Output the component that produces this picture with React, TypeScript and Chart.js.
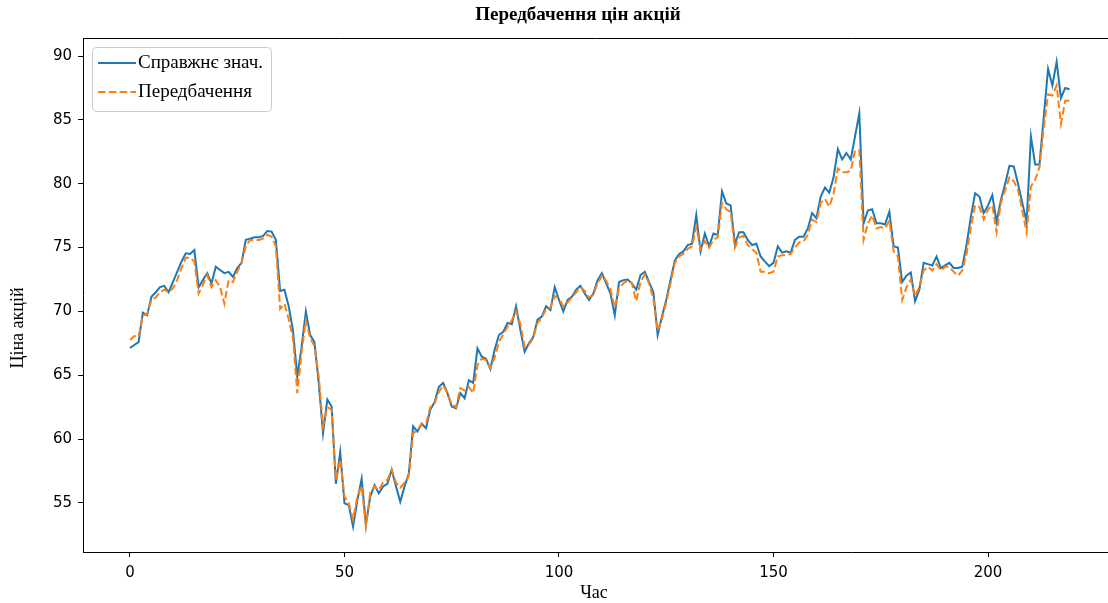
import React, { useEffect, useRef } from 'react';
import { Chart, registerables } from 'chart.js';

Chart.register(...registerables);

const TITLE = 'Передбачення цін акцій';
const X_LABEL = 'Час';
const Y_LABEL = 'Ціна акцій';
const SERIES_NAMES = ['Справжнє знач.', 'Передбачення'];
const X_TICKS = [0, 50, 100, 150, 200];
const Y_TICKS = [55, 60, 65, 70, 75, 80, 85, 90];

const ACTUAL = [
  67.13, 67.37, 67.6, 69.9, 69.7, 71.15, 71.5, 71.9, 72.0, 71.5,
  72.3, 73.1, 73.9, 74.55, 74.5, 74.8, 71.9, 72.45, 73.0, 72.2,
  73.5, 73.24, 73.0, 73.1, 72.7, 73.4, 73.8, 75.6, 75.7, 75.8,
  75.8, 75.9, 76.3, 76.25, 75.6, 71.6, 71.7, 70.4, 68.5, 64.9,
  67.2, 70.0, 68.15, 67.6, 64.4, 60.45, 63.1, 62.55, 56.5, 59.0,
  54.97, 54.84, 53.14, 55.2, 56.9, 53.3, 55.5, 56.4, 55.76, 56.3,
  56.5, 57.6, 56.3, 55.1, 56.3, 57.3, 61.0, 60.6, 61.2, 60.85,
  62.3, 62.9, 64.1, 64.4, 63.6, 62.55, 62.4, 63.6, 63.2, 64.6,
  64.4, 67.1, 66.45, 66.3, 65.5, 67.0, 68.15, 68.4, 69.1, 69.0,
  70.4, 68.55, 66.85, 67.5, 68.0, 69.35, 69.6, 70.4, 70.1, 71.9,
  70.9, 70.0, 70.9, 71.15, 71.7, 72.0, 71.4, 70.9, 71.4, 72.45,
  73.0, 72.2, 71.4, 69.7, 72.3, 72.45, 72.5, 72.2, 71.7, 72.85,
  73.1, 72.3, 71.5, 68.15, 69.6, 70.9, 72.46, 74.0, 74.5, 74.7,
  75.2, 75.3, 77.55, 74.7, 76.1, 75.1, 76.1, 75.97, 79.4, 78.45,
  78.3, 75.3, 76.2, 76.2, 75.6, 75.2, 75.3, 74.3, 73.9, 73.55,
  73.8, 75.1, 74.6, 74.7, 74.6, 75.6, 75.85, 75.85, 76.5, 77.7,
  77.3, 79.0, 79.7, 79.3, 80.5, 82.7, 81.9, 82.4, 81.9, 83.7,
  85.5, 76.9, 77.9, 78.0, 76.9, 76.9, 76.8, 77.8, 75.1, 75.0,
  72.3, 72.8, 73.05, 70.8, 71.7, 73.8, 73.7, 73.6, 74.3, 73.4,
  73.6, 73.8, 73.4, 73.4, 73.5, 75.2, 77.4, 79.25, 79.0, 77.7,
  78.3, 79.1, 77.0, 78.7, 80.0, 81.4, 81.35, 80.0, 78.5, 77.0,
  83.7, 81.5, 81.5, 85.25, 89.0, 87.7, 89.55, 86.7, 87.5, 87.4,
];

const PREDICTED = [
  67.76, 68.07, 68.0, 69.7, 69.8, 70.9, 71.1, 71.5, 71.7, 71.5,
  71.8, 72.45, 73.4, 74.2, 74.2, 73.9, 71.4, 72.1, 72.85, 71.9,
  72.45, 71.9, 70.6, 72.45, 72.3, 73.1, 73.8, 75.1, 75.6, 75.6,
  75.6, 75.7, 76.0, 75.85, 75.1, 70.2, 70.6, 69.4, 67.9, 63.6,
  66.8, 69.3, 67.9, 67.3, 64.9, 61.0, 62.5, 62.3, 56.8, 58.4,
  55.5, 55.0, 53.7, 55.5, 56.3, 53.2, 55.8, 56.3, 56.0, 56.6,
  56.8, 57.6, 56.6, 56.2, 56.6, 57.1, 60.45, 60.7, 61.2, 61.2,
  62.5, 62.8, 63.7, 64.2, 63.6, 62.7, 62.5, 64.0, 63.8, 64.1,
  63.6, 65.8, 66.3, 66.2, 65.6, 66.4, 67.6, 68.2, 68.8, 69.3,
  70.0, 69.0, 67.2, 67.4, 67.9, 69.1, 69.5, 70.2, 70.3, 71.2,
  71.0, 70.4, 70.7, 71.1, 71.5, 71.9, 71.6, 71.1, 71.3, 72.2,
  72.8, 72.4, 71.7, 70.3, 71.8, 72.2, 72.4, 72.2, 70.8, 72.3,
  72.9, 72.2, 71.0, 68.5, 69.4, 70.7, 72.2, 73.8, 74.3, 74.5,
  74.9, 75.1, 76.6, 74.9, 75.5, 75.0, 75.6, 75.8, 78.5, 78.0,
  77.8, 75.0, 75.8, 75.9, 75.2, 74.9, 74.6, 73.1, 73.1, 73.0,
  73.1, 74.3, 74.4, 74.4, 74.5, 75.0, 75.4, 75.5, 76.0, 77.2,
  77.0, 78.5, 78.8, 78.2, 79.2, 81.2, 80.9, 80.9, 81.0, 82.6,
  82.6, 75.6, 76.9, 77.5, 76.5, 76.6, 76.5, 77.1, 74.7, 74.3,
  70.9, 71.9, 72.5, 71.2, 71.9, 73.2, 73.5, 73.2, 73.7, 73.2,
  73.5, 73.5, 73.1, 72.8, 73.2, 74.5, 76.6, 78.3, 78.2, 77.2,
  78.0, 78.3, 76.2, 78.5, 79.5, 80.5, 80.2, 79.5, 77.9, 76.2,
  79.8, 80.3, 81.3, 84.4, 87.0, 86.9, 87.7, 84.7, 86.5, 86.5,
];

const BLUE = '#1f77b4';
const ORANGE = '#ff7f0e';
const SERIF = '"Liberation Serif", "DejaVu Serif", serif';

const overlayPlugin = {
  id: 'overlay',
  afterDraw(chart: any) {
    const ctx = chart.ctx as CanvasRenderingContext2D;
    const a = chart.chartArea;
    ctx.save();
    // top spine
    ctx.strokeStyle = '#000';
    ctx.lineWidth = 1;
    ctx.beginPath();
    ctx.moveTo(a.left, Math.round(a.top) + 0.5);
    ctx.lineTo(a.right, Math.round(a.top) + 0.5);
    ctx.stroke();

    ctx.fillStyle = '#000';
    ctx.textAlign = 'center';
    ctx.textBaseline = 'middle';
    ctx.font = `bold 19px ${SERIF}`;
    ctx.fillText(TITLE, 578, 15);

    ctx.font = `18px ${SERIF}`;
    ctx.fillText(X_LABEL, 594, 593);

    ctx.save();
    ctx.translate(18, 328);
    ctx.rotate(-Math.PI / 2);
    ctx.fillText(Y_LABEL, 0, 0);
    ctx.restore();

    // legend
    const bx = 92.5, by = 47.5, bw = 179, bh = 64;
    ctx.beginPath();
    (ctx as any).roundRect(bx, by, bw, bh, 4);
    ctx.fillStyle = 'rgba(255,255,255,0.8)';
    ctx.fill();
    ctx.strokeStyle = '#cccccc';
    ctx.lineWidth = 1;
    ctx.stroke();

    const rows = [63, 92];
    chart.data.datasets.forEach((ds: any, i: number) => {
      const y = rows[i];
      ctx.save();
      ctx.strokeStyle = ds.borderColor;
      ctx.lineWidth = ds.borderWidth;
      ctx.setLineDash(ds.borderDash || []);
      ctx.beginPath();
      ctx.moveTo(98, y);
      ctx.lineTo(136, y);
      ctx.stroke();
      ctx.restore();
      ctx.fillStyle = '#000';
      ctx.textAlign = 'left';
      ctx.textBaseline = 'middle';
      ctx.font = `19px ${SERIF}`;
      ctx.fillText(ds.label, 138, y);
    });
    ctx.restore();
  },
};

export default function App() {
  const ref = useRef<HTMLCanvasElement>(null);

  useEffect(() => {
    document.body.style.margin = '0';
    const canvas = ref.current;
    if (!canvas) return;
    const toPoints = (arr: number[]) => arr.map((v, i) => ({ x: i, y: v }));
    const chart = new Chart(canvas, {
      type: 'line',
      data: {
        datasets: [
          {
            label: SERIES_NAMES[0],
            data: toPoints(ACTUAL),
            borderColor: BLUE,
            backgroundColor: BLUE,
            borderWidth: 2,
            pointRadius: 0,
            tension: 0,
            fill: false,
            order: 2,
          },
          {
            label: SERIES_NAMES[1],
            data: toPoints(PREDICTED),
            borderColor: ORANGE,
            backgroundColor: ORANGE,
            borderWidth: 2,
            borderDash: [7.5, 3.3],
            pointRadius: 0,
            tension: 0,
            fill: false,
            order: 1,
          },
        ],
      },
      options: {
        animation: false,
        responsive: false,
        devicePixelRatio: 1,
        layout: { padding: { top: 38, left: 0, right: 0, bottom: 0 } },
        plugins: {
          legend: { display: false },
          title: { display: false },
          tooltip: { enabled: false },
        },
        scales: {
          x: {
            type: 'linear',
            min: -10.95,
            max: 227.97,
            afterFit: (s: any) => { s.height = 51; },
            afterBuildTicks: (s: any) => { s.ticks = X_TICKS.map((v) => ({ value: v })); },
            grid: { drawOnChartArea: false, tickLength: 5, tickColor: '#000', tickWidth: 1 },
            border: { display: true, color: '#000', width: 1 },
            ticks: {
              color: '#000',
              padding: 7,
              maxRotation: 0,
              autoSkip: false,
              font: { family: '"DejaVu Sans", sans-serif', size: 15 },
            },
          },
          y: {
            type: 'linear',
            min: 51.16,
            max: 91.41,
            afterFit: (s: any) => { s.width = 83; },
            afterBuildTicks: (s: any) => { s.ticks = Y_TICKS.map((v) => ({ value: v })); },
            grid: { drawOnChartArea: false, tickLength: 5, tickColor: '#000', tickWidth: 1 },
            border: { display: true, color: '#000', width: 1 },
            ticks: {
              color: '#000',
              padding: 6,
              autoSkip: false,
              font: { family: '"DejaVu Sans", sans-serif', size: 15 },
            },
          },
        },
      },
      plugins: [overlayPlugin],
    } as any);
    return () => chart.destroy();
  }, []);

  return (
    <div style={{ position: 'absolute', left: 0, top: 0, width: 1108, height: 603, background: '#fff' }}>
      <canvas ref={ref} width={1108} height={603} style={{ display: 'block' }} />
    </div>
  );
}
